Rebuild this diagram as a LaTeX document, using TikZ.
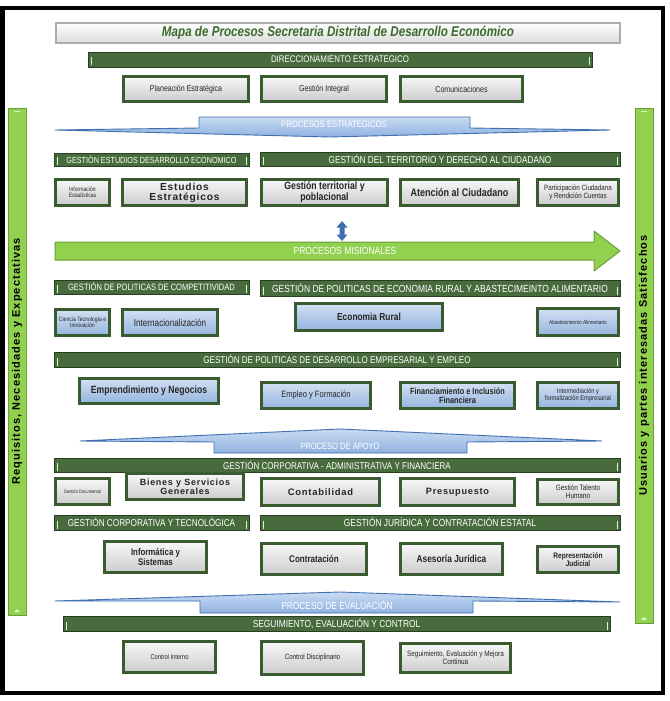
\documentclass[tikz,border=0pt]{standalone}
\usepackage{fontspec}
\setmainfont{Liberation Sans}
\newfontfamily\narrow{Liberation Sans}[FakeStretch=0.82]
\newfontfamily\spaced{Liberation Sans}[LetterSpace=8]
\newfontfamily\barfont{Liberation Sans}[LetterSpace=10]
\definecolor{dg}{HTML}{3A5A30}
\definecolor{bannerg}{HTML}{486B3D}
\definecolor{lg}{HTML}{92D050}
\definecolor{lgd}{HTML}{6C9E38}
\definecolor{bl}{HTML}{3F6FAF}
\definecolor{lbt}{HTML}{C9DBF3}
\definecolor{lbb}{HTML}{8FB2E0}
\definecolor{bbt}{HTML}{D3E1F3}
\definecolor{bbb}{HTML}{94B4DE}
\definecolor{ttl}{HTML}{3B6B2A}
\newcommand\bx[7]{\node[#6, minimum width={(#4-#2)*1pt-2.6pt}, minimum height={(#5-#3)*1pt-2.6pt}] (#1) at ({(#2+#4)/2},{(#3+#5)/2}) {#7};}
\newcommand\bn[7]{\node[banner, font=\narrow\fz{#6}, minimum width={(#4-#2)*1pt}, minimum height={(#5-#3)*1pt}] (#1) at ({(#2+#4)/2},{(#3+#5)/2}) {#7};}
\newcommand\fz[1]{\fontsize{#1}{#1}\selectfont}
\tikzset{
  banner/.style={fill=bannerg, draw=dg!70!black, line width=0.6pt, text=white, inner sep=0pt,
    path picture={
      \draw[green!20!white, line width=0.7pt] ([xshift=3pt,yshift=1.5pt]path picture bounding box.south west) -- ++(0,8pt);
      \draw[green!20!white, line width=0.7pt] ([xshift=-3pt,yshift=1.5pt]path picture bounding box.south east) -- ++(0,8pt);}},
  gbox/.style={draw=dg, line width=2.6pt, top color=gray!6, bottom color=gray!40,
    text=black!85, align=center, inner sep=0.5pt},
  bbox/.style={draw=dg, line width=2.6pt, top color=bbt, bottom color=bbb,
    text=black!85, align=center, inner sep=0.5pt},
  procarrow/.style={top color=lbt, bottom color=lbb, draw=bl, line width=0.9pt, line join=round},
  arrowlbl/.style={text=white, inner sep=0pt},
  sidebar/.style={fill=lg, draw=lgd, line width=1pt, inner sep=0pt, font=\barfont\bfseries\fz{11}, text=black}
}
\begin{document}
\begin{tikzpicture}[x=1pt,y=-1pt]
\useasboundingbox (0,0) rectangle (669,701);
\fill[white] (0,0) rectangle (669,701);
\draw[line width=4.5pt] (2.5,8) rectangle (663,693);

% title
\node[draw=gray!65, line width=2pt, top color=white, bottom color=gray!28, minimum width=564pt, minimum height=20pt,
  text=ttl, font=\narrow\bfseries\itshape\fz{14.2}] (title) at (338,33) {Mapa de Procesos Secretaria Distrital de Desarrollo Económico};

% side bars
\node[sidebar, rotate=90, minimum width=507pt, minimum height=18pt] (req) at (17,361.5) {Requisitos, Necesidades y Expectativas};
\node[sidebar, rotate=90, minimum width=515pt, minimum height=18pt] (usu) at (644,365.5) {Usuarios y partes interesadas Satisfechos};
\foreach \xx/\ya/\yb in {17/108/615, 644/108/623}{
  \draw[green!20!white, line width=1.2pt] (\xx-3,\ya+3.5) -- (\xx+3,\ya+3.5);
  \fill[green!20!white] (\xx-3,\yb-3) -- (\xx+3,\yb-3) -- (\xx,\yb-6) -- cycle;
}

% direccionamiento
\bn{dir}{88}{52}{592}{67}{9.6}{DIRECCIONAMIENTO  ESTRATEGICO}
\bx{pe}{122}{75}{250}{103}{gbox, font=\narrow\fz{8.6}}{Planeación Estratégica}
\bx{gi}{260}{75}{388}{103}{gbox, font=\narrow\fz{8.6}}{Gestión Integral}
\bx{co}{399}{75}{524}{103}{gbox, font=\narrow\fz{8.6}}{Comunicaciones}

% procesos estrategicos arrow
\draw[procarrow] (55,130) -- (199,128) -- (199,117) -- (470,117) -- (470,128) -- (610,130) -- (330,137) -- cycle;
\node[arrowlbl, font=\narrow\fz{9.4}] (pest) at (334,123) {PROCESOS  ESTRATÉGICOS};

% estudios / territorio
\bn{ged}{54}{153}{249}{166}{8.8}{GESTIÓN  ESTUDIOS  DESARROLLO ECONOMICO}
\bn{gter}{260}{152}{620}{166}{10}{GESTIÓN  DEL  TERRITORIO  Y DERECHO  AL CIUDADANO}
\bx{ie}{54}{178}{111}{207}{gbox, font=\narrow\fz{6.2}}{Información\\Estadísticas}
\bx{ee}{121}{178}{248}{207}{gbox, font=\spaced\bfseries\fz{10.2}}{Estudios\\Estratégicos}
\bx{gt}{260}{178}{389}{207}{gbox, font=\narrow\bfseries\fz{10.6}}{Gestión territorial y\\poblacional}
\bx{ac}{399}{178}{520}{207}{gbox, font=\narrow\bfseries\fz{11}}{Atención al Ciudadano}
\bx{pc}{536}{178}{620}{207}{gbox, font=\narrow\fz{7.6}}{Participación Ciudadana\\y Rendición Cuentas}

% double arrow
\fill[bl] (342,221) -- (347.5,227.5) -- (344.5,227.5) -- (344.5,234.5) -- (347.5,234.5) -- (342,241)
  -- (336.5,234.5) -- (339.5,234.5) -- (339.5,227.5) -- (336.5,227.5) -- cycle;

% procesos misionales arrow
\draw[fill=lg, draw=lgd, line width=1pt, line join=round] (55,242) -- (594,242) -- (594,231) -- (620,251)
  -- (594,271) -- (594,260) -- (55,260) -- cycle;
\node[arrowlbl, font=\narrow\fz{10.4}] (pmis) at (345,251) {PROCESOS MISIONALES};

% competitividad / economia rural
\bn{gcomp}{54}{280}{249}{294}{9.2}{GESTIÓN  DE  POLITICAS DE COMPETITIVIDAD}
\bn{grur}{260}{280}{620}{296}{10.3}{GESTIÓN  DE  POLITICAS DE ECONOMIA RURAL  Y ABASTECIMEINTO ALIMENTARIO}
\bx{cti}{54}{308}{111}{337}{bbox, font=\narrow\fz{6.2}}{Ciencia Tecnología e\\Innovación}
\bx{int}{121}{308}{219}{337}{bbox, font=\narrow\fz{10}}{Internacionalización}
\bx{er}{294}{302}{444}{332}{bbox, font=\narrow\bfseries\fz{10.2}}{Economia Rural}
\bx{aa}{536}{307}{620}{337}{bbox, font=\narrow\fz{5.8}}{Abastecimiento Alimentario}

% desarrollo empresarial
\bn{gemp}{54}{352}{620}{367}{9.8}{GESTIÓN  DE  POLITICAS DE  DESARROLLO  EMPRESARIAL  Y EMPLEO}
\bx{en}{78}{377}{220}{405}{bbox, font=\narrow\bfseries\fz{10.5}}{Emprendimiento y Negocios}
\bx{ef}{260}{381}{372}{410}{bbox, font=\narrow\fz{9.2}}{Empleo y Formación}
\bx{fi}{399}{381}{516}{410}{bbox, font=\narrow\bfseries\fz{9}}{Financiamiento e Inclusión\\Financiera}
\bx{ife}{536}{381}{620}{410}{bbox, font=\narrow\fz{7}}{Intermediación y\\formalización Empresarial}

% proceso de apoyo arrow
\draw[procarrow] (80,441) -- (340,429) -- (602,441) -- (467,442) -- (467,453) -- (214,453) -- (214,442) -- cycle;
\node[arrowlbl, font=\narrow\fz{9.2}] (papo) at (340,446.5) {PROCESO DE APOYO};

% corporativa administrativa
\bn{gadm}{54}{458}{620}{472}{9.8}{GESTIÓN  CORPORATIVA  -  ADMINISTRATIVA Y FINANCIERA}
\bx{gd}{54}{477}{111}{506}{gbox, font=\narrow\fz{5}}{Gestión Documental}
\bx{bs}{125}{472}{245}{501}{gbox, font=\spaced\bfseries\fz{9}}{Bienes y Servicios\\Generales}
\bx{cont}{260}{477}{381}{507}{gbox, font=\spaced\bfseries\fz{9.4}}{Contabilidad}
\bx{pres}{399}{477}{516}{507}{gbox, font=\spaced\bfseries\fz{9.2}}{Presupuesto}
\bx{gth}{536}{478}{620}{506}{gbox, font=\narrow\fz{7.8}}{Gestión Talento\\Humano}

% tecnologica / juridica
\bn{gtec}{54}{515}{249}{530}{10}{GESTIÓN  CORPORATIVA Y TECNOLÓGICA}
\bn{gjur}{260}{515}{620}{530}{10.2}{GESTIÓN  JURÍDICA  Y  CONTRATACIÓN ESTATAL}
\bx{is}{103}{540}{208}{574}{gbox, font=\narrow\bfseries\fz{9.6}}{Informática y\\Sistemas}
\bx{ctr}{260}{542}{368}{576}{gbox, font=\narrow\bfseries\fz{9.8}}{Contratación}
\bx{aj}{399}{542}{504}{576}{gbox, font=\narrow\bfseries\fz{10.2}}{Asesoría Jurídica}
\bx{rj}{536}{545}{620}{574}{gbox, font=\narrow\bfseries\fz{8}}{Representación\\Judicial}

% proceso de evaluacion arrow
\draw[procarrow] (55,601) -- (340,592) -- (620,602) -- (473,601) -- (473,613) -- (200,613) -- (200,601) -- cycle;
\node[arrowlbl, font=\narrow\fz{10.2}] (peva) at (337,605) {PROCESO DE  EVALUACIÓN};

% seguimiento
\bn{gseg}{63}{616}{610}{631}{10.2}{SEGUIMIENTO,  EVALUACIÓN Y CONTROL}
\bx{ci}{122}{640}{217}{674}{gbox, font=\narrow\fz{7}}{Control Interno}
\bx{cd}{260}{640}{365}{676}{gbox, font=\narrow\fz{7.6}}{Control Disciplinario}
\bx{sem}{399}{642}{512}{674}{gbox, font=\narrow\fz{7.8}}{Seguimiento, Evaluación y Mejora\\Continua}
\end{tikzpicture}
\end{document}
